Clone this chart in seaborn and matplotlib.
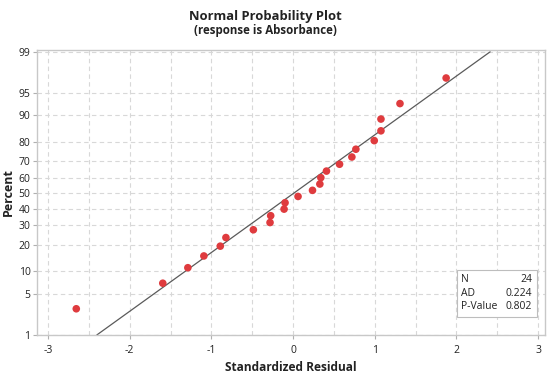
import numpy as np
import pandas as pd
import matplotlib
matplotlib.use("Agg")
import matplotlib.pyplot as plt
import seaborn as sns
from statistics import NormalDist

# ---- data ----
residual = [-2.654, -1.595, -1.288, -1.092, -0.891, -0.822, -0.486, -0.282,
            -0.274, -0.110, -0.098, 0.061, 0.238, 0.328, 0.340, 0.409,
            0.569, 0.720, 0.769, 0.994, 1.076, 1.076, 1.309, 1.874]
percent = [2.9, 7.0, 11.1, 15.2, 19.3, 23.4, 27.5, 31.6,
           35.7, 39.8, 43.9, 48.0, 52.0, 56.1, 60.2, 64.3,
           68.4, 72.5, 76.6, 80.7, 84.8, 88.9, 93.0, 97.1]
fit_mean = 0.005
fit_sd = 1.035
line_percent = [1, 99]
y_ticks = [1, 5, 10, 20, 30, 40, 50, 60, 70, 80, 90, 95, 99]
x_ticks = [-3, -2, -1, 0, 1, 2, 3]
x_grid = [-3, -2.5, -2, -1.5, -1, -0.5, 0, 0.5, 1, 1.5, 2, 2.5, 3]
stats_labels = ["N", "AD", "P-Value"]
stats_values = ["24", "0.224", "0.802"]

nd = NormalDist()
def z(p):
    return np.array([nd.inv_cdf(v / 100.0) for v in np.atleast_1d(p)])

sns.set_theme(style="white")
plt.rcParams['font.family'] = ['Open Sans', 'DejaVu Sans']

fig = plt.figure(figsize=(5.5, 3.78), dpi=100)
ax = fig.add_axes([0.068, 0.1138, 0.923, 0.754])

df = pd.DataFrame({"resid": residual, "z": z(percent)})
line_z = z(line_percent)
line_df = pd.DataFrame({"x": fit_mean + fit_sd * line_z, "z": line_z})

for g in x_grid:
    ax.axvline(g, color="#d8d8d8", lw=0.8, ls=(0, (4, 3)), zorder=0)
for t in y_ticks:
    ax.axhline(z(t)[0], color="#d8d8d8", lw=0.8, ls=(0, (4, 3)), zorder=0)

sns.lineplot(data=line_df, x="x", y="z", ax=ax, color="#5a5a5a", lw=0.9, zorder=2)
sns.scatterplot(data=df, x="resid", y="z", ax=ax, color="#df3b3e", s=30,
                edgecolor="none", zorder=3)

ax.set_xlim(-3.13, 3.085)
ax.set_ylim(z(1)[0], z(99)[0] + 0.03)
ax.set_xticks(x_ticks)
ax.set_xticklabels([str(t) for t in x_ticks])
ax.set_yticks(z(y_ticks))
ax.set_yticklabels([str(t) for t in y_ticks])
ax.tick_params(axis="both", labelsize=7.5, length=3, width=0.8, color="#b0b0b0",
               direction="out", labelcolor="#222222")
ax.tick_params(axis="x", pad=4)
ax.tick_params(axis="y", pad=2)
ax.tick_params(axis="both", which="both", bottom=True, left=True)
for s in ax.spines.values():
    s.set_color("#c8c8c8")
    s.set_linewidth(1.0)

ax.set_xlabel("Standardized Residual", fontsize=8.6, fontweight="bold", color="#222222", labelpad=4)
ax.set_ylabel("Percent", fontsize=9, fontweight="bold", color="#222222", labelpad=3)

fig.text(0.482, 0.957, "Normal Probability Plot", ha="center", va="center",
         fontsize=9.4, fontweight="bold", color="#222222")
fig.text(0.482, 0.918, "(response is Absorbance)", ha="center", va="center",
         fontsize=8.3, fontweight="bold", color="#222222")

# stats box
from matplotlib.patches import Rectangle
bx0, by0, bx1, by1 = 456.5 / 550, 1 - 317 / 378, 537 / 550, 1 - 270 / 378
fig.patches.append(Rectangle((bx0, by0), bx1 - bx0, by1 - by0, transform=fig.transFigure,
                             facecolor="white", edgecolor="#bdbdbd", lw=0.8, zorder=5))
for i, (lab, val) in enumerate(zip(stats_labels, stats_values)):
    yy = (1 - 280 / 378) - i * (13.2 / 378)
    fig.text(bx0 + 5 / 550, yy, lab, ha="left", va="center", fontsize=7.5, color="#222222", zorder=6)
    fig.text(bx1 - 5 / 550, yy, val, ha="right", va="center", fontsize=7.5, color="#222222", zorder=6)

fig.savefig("out.png", dpi=100)
